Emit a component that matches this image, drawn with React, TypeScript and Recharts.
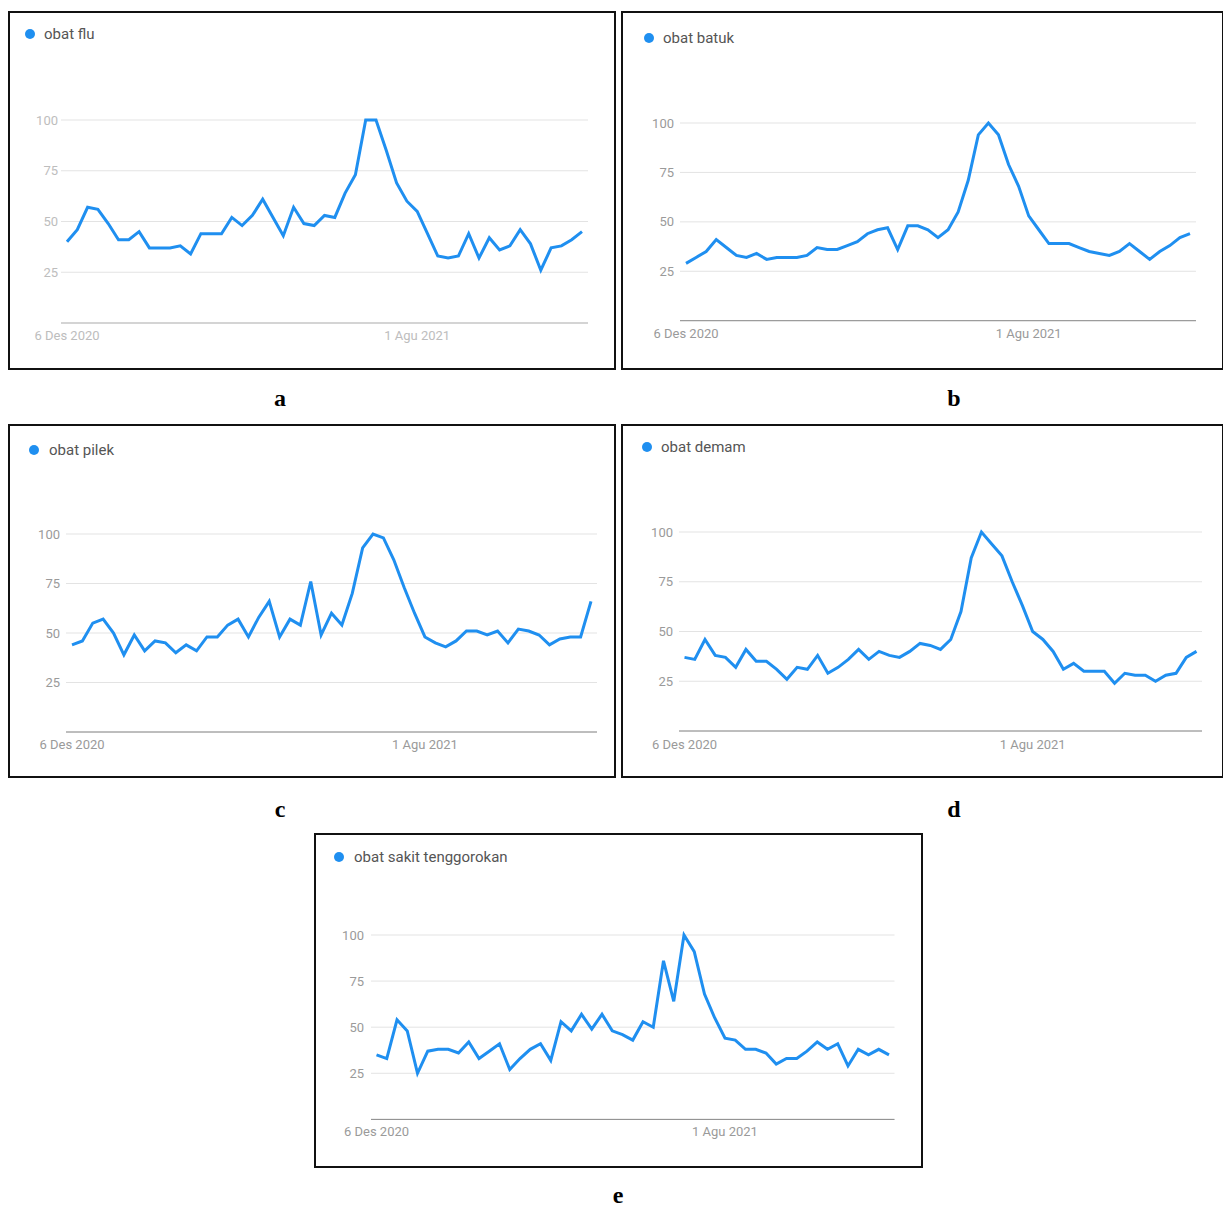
import { LineChart, Line, XAxis, YAxis, CartesianGrid } from "recharts";

// weekly Google Trends index, 6 Des 2020 onward (51 weeks)
const obatFlu = [40, 46, 57, 56, 49, 41, 41, 45, 37, 37, 37, 38, 34, 44, 44, 44, 52, 48, 53, 61, 52, 43, 57, 49, 48, 53, 52, 64, 73, 100, 100, 85, 69, 60, 55, 44, 33, 32, 33, 44, 32, 42, 36, 38, 46, 39, 26, 37, 38, 41, 45];
const obatBatuk = [29, 32, 35, 41, 37, 33, 32, 34, 31, 32, 32, 32, 33, 37, 36, 36, 38, 40, 44, 46, 47, 36, 48, 48, 46, 42, 46, 55, 71, 94, 100, 94, 79, 68, 53, 46, 39, 39, 39, 37, 35, 34, 33, 35, 39, 35, 31, 35, 38, 42, 44];
const obatPilek = [44, 46, 55, 57, 50, 39, 49, 41, 46, 45, 40, 44, 41, 48, 48, 54, 57, 48, 58, 66, 48, 57, 54, 76, 49, 60, 54, 70, 93, 100, 98, 87, 73, 60, 48, 45, 43, 46, 51, 51, 49, 51, 45, 52, 51, 49, 44, 47, 48, 48, 66];
const obatDemam = [37, 36, 46, 38, 37, 32, 41, 35, 35, 31, 26, 32, 31, 38, 29, 32, 36, 41, 36, 40, 38, 37, 40, 44, 43, 41, 46, 60, 87, 100, 94, 88, 75, 63, 50, 46, 40, 31, 34, 30, 30, 30, 24, 29, 28, 28, 25, 28, 29, 37, 40];
const obatSakitTenggorokan = [35, 33, 54, 48, 25, 37, 38, 38, 36, 42, 33, 37, 41, 27, 33, 38, 41, 32, 53, 48, 57, 49, 57, 48, 46, 43, 53, 50, 86, 64, 100, 91, 68, 55, 44, 43, 38, 38, 36, 30, 33, 33, 37, 42, 38, 41, 29, 38, 35, 38, 35];

const xTickWeeks = [0, 34];
const xTickLabels = ["6 Des 2020", "1 Agu 2021"];
const yTicks = [25, 50, 75, 100];

const LINE = "#1f8ff0";

type PanelProps = {
  title: string;
  values: number[];
  letter: string;
  box: { x: number; y: number; w: number; h: number };
  plot: { x1: number; x2: number; top: number; bottom: number };
  pad: number;
  legend: { dx: number; dy: number; tx: number };
  yGap: number;
  xGap: number;
  tickColor: string;
  axisColor: string;
  axisWidth: number;
  letterPos: { x: number; base: number };
};

function Panel(p: PanelProps) {
  const data = p.values.map((v, i) => ({ week: i, value: v }));
  const yw = 60;
  const mTop = 10;
  const xh = 30;
  const width = p.plot.x2 - p.plot.x1 + yw + 10;
  const height = p.plot.bottom - p.plot.top + mTop + xh;
  return (
    <>
      <div
        style={{
          position: "absolute",
          left: p.box.x,
          top: p.box.y,
          width: p.box.w,
          height: p.box.h,
          border: "2px solid #111",
          boxSizing: "border-box",
          background: "#fff",
        }}
      />
      <div
        style={{
          position: "absolute",
          left: p.legend.dx - 5,
          top: p.legend.dy - 5,
          width: 10,
          height: 10,
          borderRadius: 5,
          background: LINE,
        }}
      />
      <div
        style={{
          position: "absolute",
          left: p.legend.tx,
          top: p.legend.dy - 10,
          height: 20,
          lineHeight: "20px",
          fontFamily: "Roboto, sans-serif",
          fontSize: 15,
          color: "#555",
          whiteSpace: "nowrap",
        }}
      >
        {p.title}
      </div>
      <div style={{ position: "absolute", left: p.plot.x1 - yw, top: p.plot.top - mTop }}>
        <LineChart width={width} height={height} data={data} margin={{ top: mTop, right: 10, left: 0, bottom: 0 }}>
          <CartesianGrid vertical={false} stroke="#e3e3e3" strokeWidth={1} />
          <XAxis
            dataKey="week"
            type="number"
            domain={[0, p.values.length - 1]}
            ticks={xTickWeeks}
            interval={0}
            tickFormatter={(v) => xTickLabels[xTickWeeks.indexOf(v)]}
            padding={{ left: p.pad, right: p.pad }}
            height={xh}
            tickLine={false}
            tickSize={0}
            tickMargin={p.xGap}
            axisLine={{ stroke: p.axisColor, strokeWidth: p.axisWidth }}
            tick={{ fill: p.tickColor, fontSize: 13, fontFamily: "Roboto, sans-serif" }}
          />
          <YAxis
            domain={[0, 100]}
            ticks={yTicks}
            width={yw}
            interval={0}
            axisLine={false}
            tickLine={false}
            tickSize={0}
            tickMargin={p.yGap}
            tick={{ fill: p.tickColor, fontSize: 13, fontFamily: "Roboto, sans-serif" }}
          />
          <Line
            type="linear"
            dataKey="value"
            stroke={LINE}
            strokeWidth={3}
            dot={false}
            isAnimationActive={false}
          />
        </LineChart>
      </div>
      <div
        style={{
          position: "absolute",
          left: p.letterPos.x - 20,
          width: 40,
          top: p.letterPos.base - 19,
          height: 22,
          lineHeight: "22px",
          textAlign: "center",
          fontFamily: "'Liberation Serif', serif",
          fontWeight: "bold",
          fontSize: 24,
          color: "#000",
        }}
      >
        {p.letter}
      </div>
    </>
  );
}

export default function App() {
  return (
    <div
      style={{
        position: "absolute",
        left: 0,
        top: 0,
        width: 1223,
        height: 1207,
        background: "#fff",
        overflow: "hidden",
      }}
    >
      <Panel
        title="obat flu"
        values={obatFlu}
        letter="a"
        box={{ x: 8, y: 11, w: 608, h: 359 }}
        plot={{ x1: 61, x2: 588, top: 120.3, bottom: 323.3 }}
        pad={6}
        legend={{ dx: 30, dy: 34, tx: 44 }}
        yGap={3}
        xGap={8}
        tickColor="#bdbdbd"
        axisColor="#d4d4d4"
        axisWidth={2}
        letterPos={{ x: 280, base: 406 }}
      />
      <Panel
        title="obat batuk"
        values={obatBatuk}
        letter="b"
        box={{ x: 621, y: 11, w: 603, h: 359 }}
        plot={{ x1: 680, x2: 1196, top: 123.3, bottom: 321 }}
        pad={6}
        legend={{ dx: 649, dy: 38, tx: 663 }}
        yGap={6}
        xGap={8}
        tickColor="#9a9a9a"
        axisColor="#8a8a8a"
        axisWidth={1}
        letterPos={{ x: 954, base: 406 }}
      />
      <Panel
        title="obat pilek"
        values={obatPilek}
        letter="c"
        box={{ x: 8, y: 424, w: 608, h: 354 }}
        plot={{ x1: 66, x2: 597, top: 534.3, bottom: 732.3 }}
        pad={6}
        legend={{ dx: 34, dy: 450, tx: 49 }}
        yGap={6}
        xGap={8}
        tickColor="#9a9a9a"
        axisColor="#8a8a8a"
        axisWidth={1}
        letterPos={{ x: 280, base: 817 }}
      />
      <Panel
        title="obat demam"
        values={obatDemam}
        letter="d"
        box={{ x: 621, y: 424, w: 603, h: 354 }}
        plot={{ x1: 678.5, x2: 1201.5, top: 531.7, bottom: 730.7 }}
        pad={5.5}
        legend={{ dx: 647, dy: 447, tx: 661 }}
        yGap={6}
        xGap={8.5}
        tickColor="#9a9a9a"
        axisColor="#8a8a8a"
        axisWidth={1}
        letterPos={{ x: 954, base: 817 }}
      />
      <Panel
        title="obat sakit tenggorokan"
        values={obatSakitTenggorokan}
        letter="e"
        box={{ x: 314, y: 833, w: 609, h: 335 }}
        plot={{ x1: 371, x2: 894.5, top: 935.3, bottom: 1119.7 }}
        pad={5.5}
        legend={{ dx: 339, dy: 857, tx: 354 }}
        yGap={7}
        xGap={7}
        tickColor="#9a9a9a"
        axisColor="#8a8a8a"
        axisWidth={1}
        letterPos={{ x: 618, base: 1203 }}
      />
    </div>
  );
}
